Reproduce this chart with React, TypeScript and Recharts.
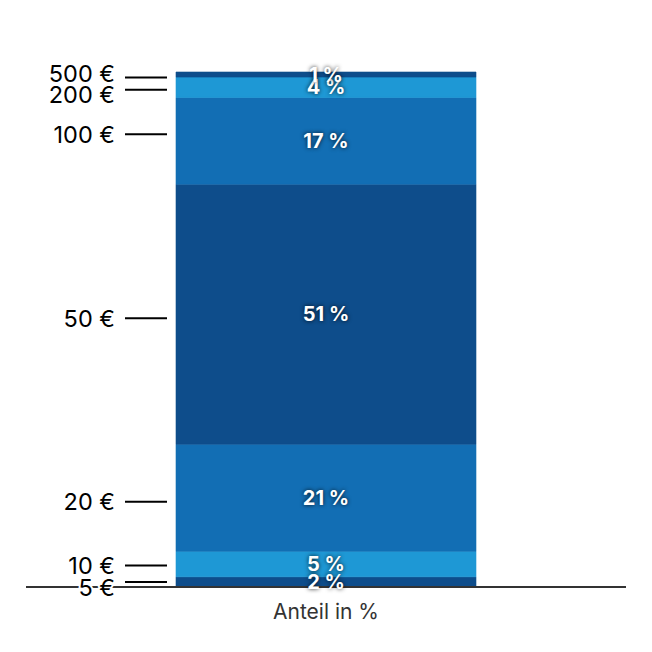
import React from 'react';
import { BarChart, Bar, XAxis, YAxis, LabelList, ReferenceLine } from 'recharts';

const category = 'Anteil in %';
const denominations = ['5 €', '10 €', '20 €', '50 €', '100 €', '200 €', '500 €'];
const shares = [2, 5, 21, 51, 17, 4, 1];
const colors = ['#0e4d8b', '#1e98d5', '#126eb4', '#0e4d8b', '#126eb4', '#1e98d5', '#0e4d8b'];
// positions of the denomination markers on the left scale (in %)
const markerPositions = [1, 4.2, 16.7, 52.7, 88.8, 97.5, 99.9];
// vertical text nudges for the left labels (px)
const labelNudge = [6, 0, 0, 0, 0, 5, -4];

const keys = denominations.map((_, i) => `d${i}`);
const row: Record<string, any> = { name: category };
keys.forEach((k, i) => (row[k] = shares[i]));
const data = [row];

const FONT = 'Inter, "Noto Sans", sans-serif';

const BaselineLabel = (props: any) => {
  const { viewBox } = props;
  return (
    <line
      x1={viewBox.x}
      x2={viewBox.x + viewBox.width}
      y1={viewBox.y}
      y2={viewBox.y}
      stroke="#333"
      strokeWidth={2}
    />
  );
};

const MarkerLabel = (props: any) => {
  const { viewBox, idx } = props;
  const y = viewBox.y;
  return (
    <g>
      <line x1={117} x2={159} y1={y} y2={y} stroke="#000" strokeWidth={2} />
      <text
        x={107}
        y={y + labelNudge[idx]}
        textAnchor="end"
        dominantBaseline="central"
        fontSize={23.5}
        fontFamily={FONT}
        fill="#000"
        stroke="#fff"
        strokeWidth={4}
        strokeLinejoin="round"
        style={{ paintOrder: 'stroke' }}
      >
        {denominations[idx]}
      </text>
    </g>
  );
};

export default function App() {
  return (
    <div style={{ width: 636, height: 636, fontFamily: FONT }}>
      <BarChart
        width={636}
        height={636}
        data={data}
        margin={{ top: 64, right: 18, left: 18, bottom: 17 }}
        barCategoryGap="25%"
      >
        <XAxis
          dataKey="name"
          height={40}
          axisLine={false}
          tickLine={false}
          tickMargin={11}
          tick={{ fill: '#333', fontSize: 21, fontFamily: FONT }}
        />
        <YAxis type="number" domain={[0, 101]} hide />
        {keys.map((k, i) => (
          <Bar
            key={k}
            dataKey={k}
            stackId="a"
            fill={colors[i]}
            stroke={colors[i]}
            strokeWidth={0.6}
            isAnimationActive={false}
          >
            <LabelList
              dataKey={k}
              position="center"
              formatter={(v: any) => `${v} %`}
              fill="#fff"
              stroke="none"
              fontSize={20}
              fontWeight={700}
              fontFamily={FONT}
              style={{ textShadow: '0 0 4px rgba(0,0,0,0.85)' }}
            />
          </Bar>
        ))}
        <ReferenceLine y={0} stroke="none" label={<BaselineLabel />} />
        {markerPositions.map((p, i) => (
          <ReferenceLine
            key={`m${i}`}
            y={p}
            stroke="none"
            label={<MarkerLabel idx={i} />}
          />
        ))}
      </BarChart>
    </div>
  );
}
